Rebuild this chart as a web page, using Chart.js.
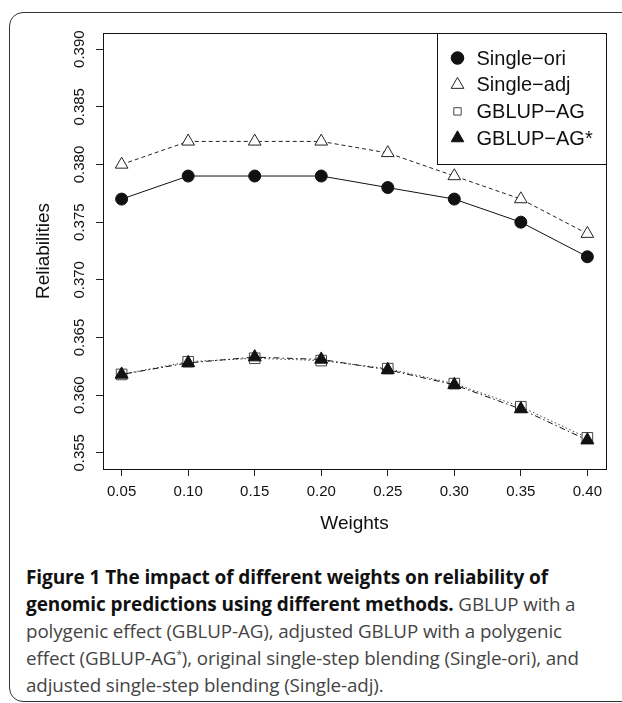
<!DOCTYPE html>
<html>
<head>
<meta charset="utf-8">
<script src="https://cdn.jsdelivr.net/npm/chart.js"></script>
<style>
  body { margin: 0; background: #fff; width: 622px; height: 703px; overflow: hidden; position: relative; }
  #frame { position: absolute; left: 9px; top: 12px; width: 700px; height: 688px; border: 1.5px solid #333; border-radius: 14px; }
  #wrap { position: absolute; left: 0; top: 0; width: 622px; height: 535px; }
  #caption { position: absolute; left: 26px; top: 564px; font-family: "Open Sans", sans-serif; font-size: 18.8px; line-height: 27px; color: #444; white-space: nowrap; letter-spacing: -0.1px; }
  #caption b { color: #111; font-size: 19px; }
</style>
</head>
<body>
<div id="frame"></div>
<div id="wrap"><canvas id="myChart" width="622" height="535"></canvas></div>
<div id="caption">
  <div><b>Figure 1 The impact of different weights on reliability of</b></div>
  <div><b>genomic predictions using different methods.</b> GBLUP with a</div>
  <div>polygenic effect (GBLUP-AG), adjusted GBLUP with a polygenic</div>
  <div>effect (GBLUP-AG<sup style="font-size:10px;line-height:0">*</sup>), original single-step blending (Single-ori), and</div>
  <div>adjusted single-step blending (Single-adj).</div>
</div>
<script>
const weights = [0.05, 0.10, 0.15, 0.20, 0.25, 0.30, 0.35, 0.40]
const singleOri = [0.377, 0.379, 0.379, 0.379, 0.378, 0.377, 0.375, 0.372]
const singleAdj = [0.380, 0.382, 0.382, 0.382, 0.381, 0.379, 0.377, 0.374]
const gblupAG = [0.3618, 0.3629, 0.3632, 0.3630, 0.3623, 0.3610, 0.3590, 0.3563]
const gblupAGstar = [0.3618, 0.3628, 0.3633, 0.3631, 0.3622, 0.3609, 0.3588, 0.3561]
const xTicks = [0.05, 0.10, 0.15, 0.20, 0.25, 0.30, 0.35, 0.40]
const yTicks = [0.355, 0.360, 0.365, 0.370, 0.375, 0.380, 0.385, 0.390]

const pts = (ys) => weights.map((x, i) => ({ x: x, y: ys[i] }))

const data = {
  datasets: [
    {
      label: "Single\u2212ori",
      data: pts(singleOri),
      borderColor: "#111",
      backgroundColor: "#111",
      pointStyle: "circle",
      pointRadius: 6,
      legendRadius: 6.3,
      order: 1,
    },
    {
      label: "Single\u2212adj",
      data: pts(singleAdj),
      borderColor: "#222",
      backgroundColor: "#fff",
      borderDash: [4, 3],
      pointStyle: "triangle",
      pointRadius: 7.3,
      legendRadius: 7.3,
      order: 2,
    },
    {
      label: "GBLUP\u2212AG",
      data: pts(gblupAG),
      borderColor: "#444",
      backgroundColor: "#fff",
      borderDash: [1.5, 2.5],
      pointStyle: "rect",
      pointRadius: 7.5,
      legendRadius: 5.2,
      order: 4,
    },
    {
      label: "GBLUP\u2212AG*",
      data: pts(gblupAGstar),
      borderColor: "#111",
      backgroundColor: "#111",
      borderDash: [1.5, 3, 6, 3],
      pointStyle: "triangle",
      pointRadius: 7.5,
      legendRadius: 7.3,
      order: 3,
    },
  ],
}

// R-style box around the plot region
const boxPlugin = {
  id: "box",
  afterDraw(chart) {
    const { ctx, chartArea: a } = chart
    ctx.save()
    ctx.strokeStyle = "#111"
    ctx.lineWidth = 1
    ctx.strokeRect(a.left + 0.5, a.top + 0.5, a.right - a.left, a.bottom - a.top)
    ctx.restore()
  },
}

// legend box in the top right corner, like legend("topright") in R
const legendPlugin = {
  id: "rlegend",
  afterDraw(chart) {
    const { ctx, chartArea: a } = chart
    const w = 169, h = 131
    const left = a.right - w, top = a.top
    ctx.save()
    ctx.fillStyle = "#fff"
    ctx.fillRect(left, top, w, h)
    ctx.strokeStyle = "#111"
    ctx.lineWidth = 1
    ctx.strokeRect(left + 0.5, top + 0.5, w, h)
    ctx.font = '20px "Liberation Sans", Arial, sans-serif'
    ctx.textBaseline = "middle"
    chart.data.datasets.forEach((ds, i) => {
      const y = top + 25 + i * 26.7
      ctx.fillStyle = ds.backgroundColor
      ctx.strokeStyle = ds.borderColor
      ctx.lineWidth = 1
      ctx.setLineDash([])
      Chart.helpers.drawPoint(ctx, { pointStyle: ds.pointStyle, radius: ds.legendRadius, rotation: 0, borderWidth: 1 }, left + 20.5, y)
      ctx.fillStyle = "#111"
      ctx.fillText(ds.label, left + 39.5, y + 1)
    })
    ctx.restore()
  },
}

const tickFont = { family: '"Liberation Sans", Arial, sans-serif', size: 15 }
const titleFont = { family: '"Liberation Sans", Arial, sans-serif', size: 19 }

const config = {
  type: "line",
  data: data,
  options: {
    responsive: false,
    animation: false,
    layout: { padding: { top: 33, right: 16, left: 0, bottom: 0 } },
    elements: {
      line: { borderWidth: 1, tension: 0 },
      point: { borderWidth: 1, hoverRadius: 6 },
    },
    plugins: { legend: { display: false }, tooltip: { enabled: false } },
    scales: {
      x: {
        type: "linear",
        min: 0.036,
        max: 0.414,
        afterBuildTicks: (s) => { s.ticks = xTicks.map((v) => ({ value: v })) },
        afterFit: (s) => { s.height = 66 },
        border: { display: false },
        grid: { drawOnChartArea: false, drawTicks: true, tickLength: 7, color: "#222" },
        ticks: { font: tickFont, color: "#111", padding: 7, maxRotation: 0, callback: (v) => v.toFixed(2) },
        title: { display: true, text: "Weights", font: titleFont, color: "#111", padding: { top: 0, bottom: 0 } },
      },
      y: {
        min: 0.3536,
        max: 0.3914,
        afterBuildTicks: (s) => { s.ticks = yTicks.map((v) => ({ value: v })) },
        afterFit: (s) => { s.width = 103 },
        border: { display: false },
        grid: { drawOnChartArea: false, drawTicks: true, tickLength: 7, color: "#222" },
        ticks: { font: tickFont, color: "#111", padding: -3, minRotation: 90, maxRotation: 90, crossAlign: "center", callback: (v) => v.toFixed(3) },
        title: { display: true, text: "Reliabilities", font: titleFont, color: "#111", padding: { top: 32, bottom: 0 } },
      },
    },
  },
  plugins: [boxPlugin, legendPlugin],
}

const myChart = new Chart(document.getElementById("myChart"), config)
</script>
</body>
</html>
